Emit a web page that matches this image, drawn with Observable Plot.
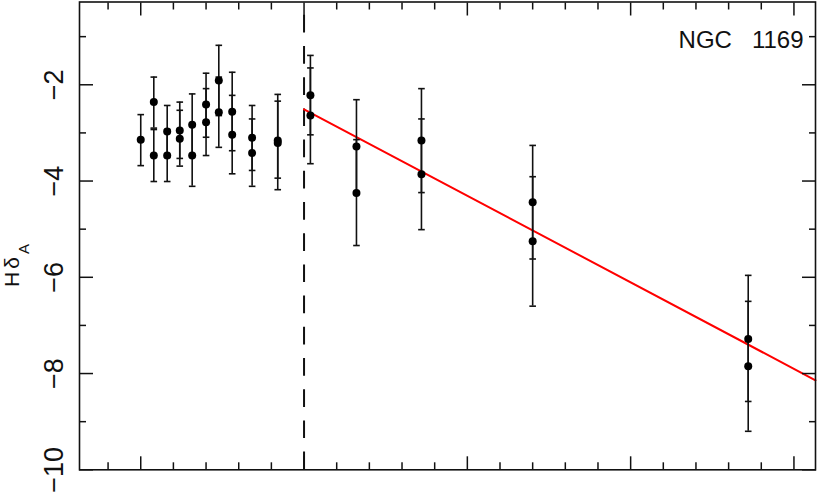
<!DOCTYPE html>
<html>
<head>
<meta charset="utf-8">
<script src="https://cdn.jsdelivr.net/npm/d3@7"></script>
<script src="https://cdn.jsdelivr.net/npm/@observablehq/plot@0.6"></script>
<style>
  html, body { margin: 0; padding: 0; background: #fff; }
  svg { display: block; }
</style>
</head>
<body>
<div id="chart"></div>
<script>
// ---- data ----
const radius = [0.000, 0.080, 0.080, 0.162, 0.162, 0.239, 0.239, 0.315, 0.315, 0.400,
                0.400, 0.478, 0.478, 0.560, 0.560, 0.682, 0.682, 0.839, 0.839,
                1.039, 1.039, 1.321, 1.321, 1.719, 1.719, 2.400, 2.400, 3.720, 3.720];
const hdA    = [-3.14, -2.36, -3.47, -2.97, -3.47, -2.95, -3.12, -2.83, -3.47, -2.41,
                -2.78, -1.91, -2.57, -2.56, -3.04, -3.10, -3.42, -3.16, -3.21,
                -2.22, -2.64, -3.28, -4.25, -3.16, -3.86, -4.44, -5.25, -7.28, -7.85];
const hdLow  = [-3.68, -2.90, -4.01, -3.51, -4.01, -3.53, -3.69, -3.47, -4.11, -3.09,
                -3.47, -2.64, -3.30, -3.37, -3.85, -3.78, -4.11, -4.18, -3.94,
                -3.04, -3.64, -4.25, -5.34, -4.24, -5.01, -5.62, -6.60, -8.58, -9.20];
const hdHigh = [-2.62, -1.84, -2.93, -2.43, -2.93, -2.36, -2.53, -2.19, -2.83, -1.76,
                -2.08, -1.18, -1.84, -1.74, -2.22, -2.43, -2.71, -2.20, -2.34,
                -1.39, -1.65, -2.31, -3.14, -2.08, -2.71, -3.26, -3.91, -5.96, -6.50];
const fitX = [1.0, 4.132];
const fitY = [-2.51, -8.14];
const divider = [1.0];
const xMajor = [0, 1, 2, 3, 4];
const xMinor = [-0.2, 0.2, 0.4, 0.6, 0.8, 1.2, 1.4, 1.6, 1.8, 2.2, 2.4, 2.6, 2.8, 3.2, 3.4, 3.6, 3.8];
const yMajor = [-10, -8, -6, -4, -2];
const yMinor = [-9, -7, -5, -3, -1];
const yLabels = [-10, -8, -6, -4, -2];
const galaxy = ["NGC 1169"];
const yTitle = "Hδ";
const yTitleSub = "A";
// ---------------------------------------

const points = radius.map((x, i) => ({x, y: hdA[i], lo: hdLow[i], hi: hdHigh[i]}));
const fit = fitX.map((x, i) => ({x, y: fitY[i]}));
const capSymbol = { draw(ctx) { ctx.moveTo(-3.3, 0); ctx.lineTo(3.3, 0); } };
const font = "'Liberation Sans', Arial, Helvetica, sans-serif";
const ink = "#111";
const fmt = d => (d < 0 ? "\u2212" + Math.abs(d) : String(d));

const tk = (anchor, ticks, size) => {
  const o = {anchor, tickSize: -size, stroke: ink, strokeWidth: 1.5, fill: "none", label: null};
  return (anchor === "left" || anchor === "right") ? Plot.axisY(ticks, o) : Plot.axisX(ticks, o);
};

const chart = Plot.plot({
  width: 817,
  height: 496,
  marginLeft: 79,
  marginRight: 2,
  marginTop: 1.5,
  marginBottom: 26.7,
  style: {fontFamily: font, background: "white", color: ink},
  x: {domain: [-0.375, 4.132], axis: null},
  y: {domain: [-10, -0.28], axis: null},
  marks: [
    Plot.ruleX(divider, {x: d => d, y1: -10, y2: -0.28, stroke: ink, strokeWidth: 2, strokeDasharray: "17.7,13.5"}),
    Plot.line(fit, {x: "x", y: "y", stroke: "#ff0000", strokeWidth: 2}),
    Plot.ruleX(points, {x: "x", y1: "lo", y2: "hi", stroke: ink, strokeWidth: 1.6}),
    Plot.dot(points, {x: "x", y: "lo", symbol: capSymbol, stroke: ink, fill: "none", strokeWidth: 1.6}),
    Plot.dot(points, {x: "x", y: "hi", symbol: capSymbol, stroke: ink, fill: "none", strokeWidth: 1.6}),
    Plot.dot(points, {x: "x", y: "y", r: 4, fill: "black", stroke: null}),
    tk("bottom", xMajor, 13), tk("bottom", xMinor, 7),
    tk("top", xMajor, 13), tk("top", xMinor, 7),
    tk("left", yMajor, 14), tk("left", yMinor, 7),
    tk("right", yMajor, 14), tk("right", yMinor, 7),
    Plot.frame({stroke: ink, strokeWidth: 1.6}),
    Plot.text(yLabels, {y: d => d, text: fmt, frameAnchor: "left", rotate: -90, dx: -25.6,
      fontSize: 27, textAnchor: "middle", lineAnchor: "middle", fill: ink}),
    Plot.text(galaxy, {text: d => d.replace(" ", "\u00a0\u00a0\u00a0"), frameAnchor: "top-right",
      dx: -12, dy: 29, fontSize: 24, textAnchor: "end", lineAnchor: "top", fill: ink})
  ]
});

const svg = d3.select(chart);
const t = svg.append("text")
  .attr("transform", "translate(19,264) rotate(-90)")
  .attr("font-family", font)
  .attr("font-size", 21)
  .attr("letter-spacing", 3)
  .attr("fill", ink);
t.append("tspan").text(yTitle);
t.append("tspan").attr("font-size", 15).attr("dy", 10).text(yTitleSub);

document.getElementById("chart").appendChild(chart);
</script>
</body>
</html>
